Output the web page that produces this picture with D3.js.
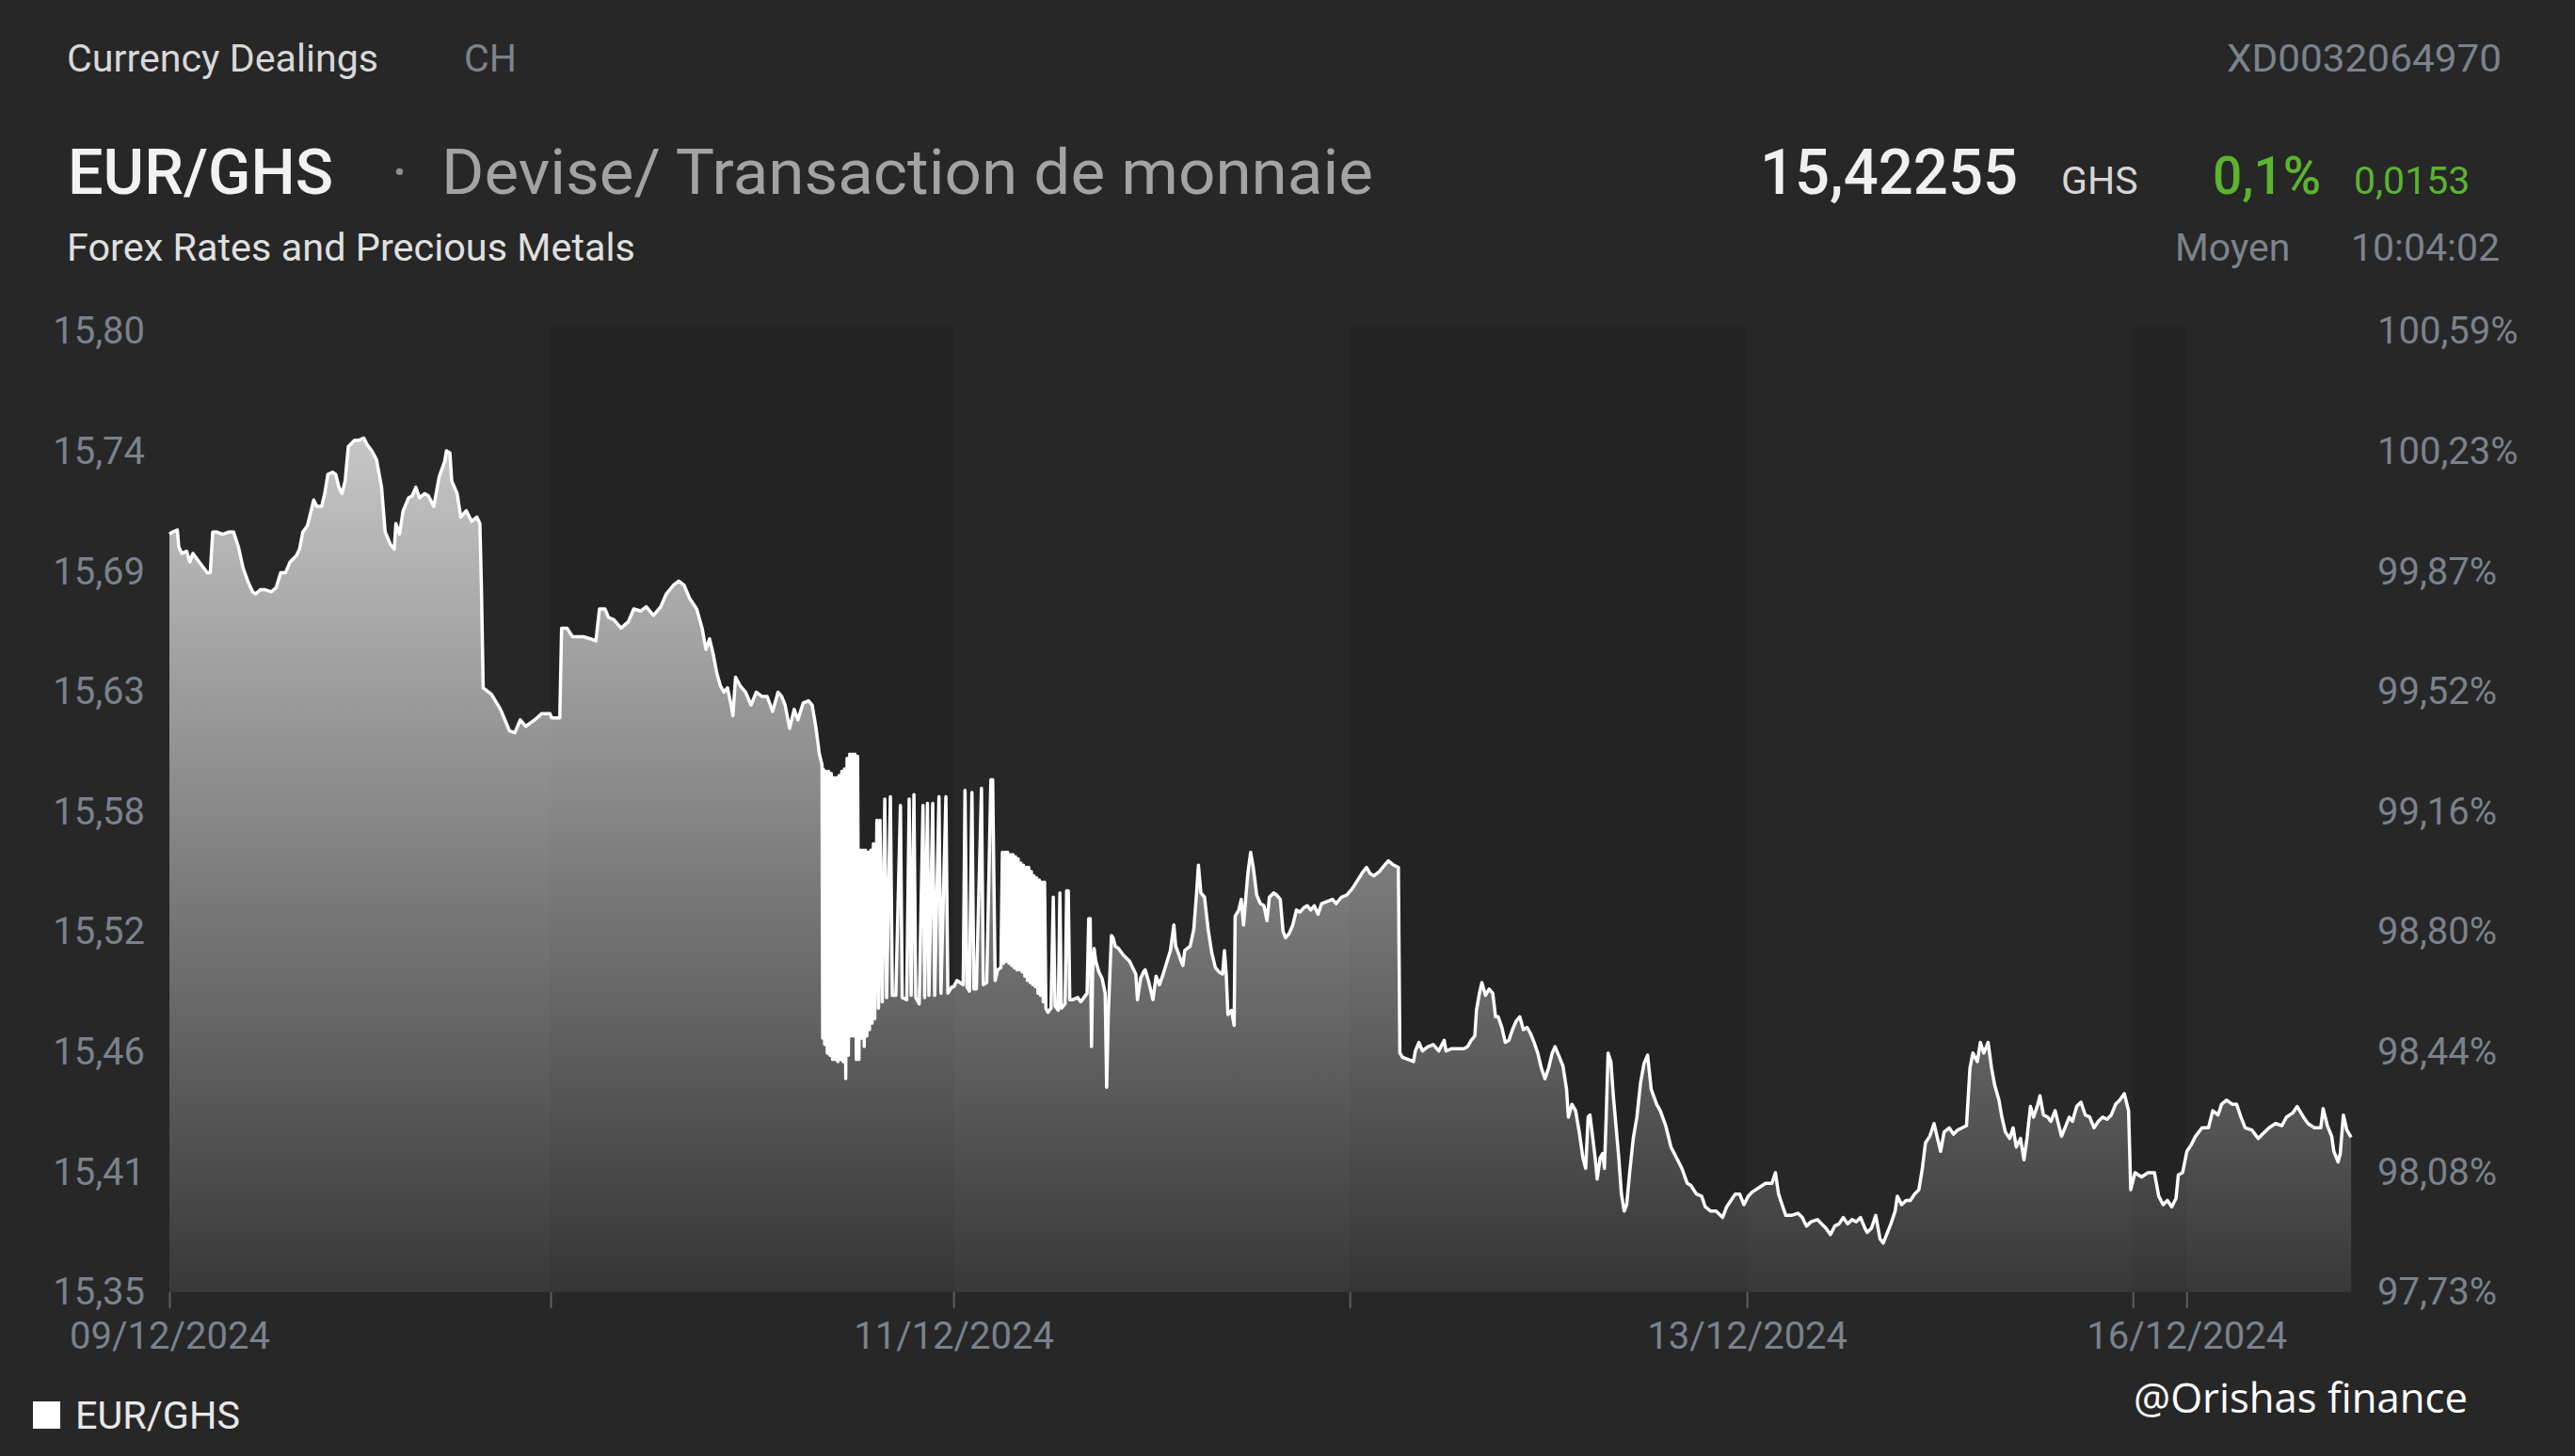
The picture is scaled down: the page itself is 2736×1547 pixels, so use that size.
<!DOCTYPE html>
<html><head><meta charset="utf-8">
<script src="https://cdn.jsdelivr.net/npm/d3@7"></script>
<style>
html,body{margin:0;padding:0;background:#272727;}
svg{display:block;}
</style></head><body>
<svg id="c" width="2736" height="1547"></svg>
<script>
// ---------- DATA (trading hour since 09/12 00:00, weekend compressed ; EUR/GHS rate) ----------
const d0912 = [[0,15.705],[0.19,15.706],[0.48,15.707],[0.57,15.699],[0.76,15.696],[1.05,15.697],[1.24,15.692],[1.43,15.696],[1.71,15.693],[2.00,15.690],[2.29,15.687],[2.48,15.687],[2.63,15.706],[2.86,15.706],[3.24,15.705],[3.62,15.706],[3.90,15.706],[4.19,15.699],[4.48,15.689],[4.76,15.683],[5.05,15.678],[5.24,15.677],[5.52,15.679],[5.81,15.679],[6.19,15.678],[6.48,15.680],[6.76,15.687],[7.05,15.687],[7.33,15.692],[7.71,15.695],[7.90,15.698],[8.10,15.706],[8.38,15.709],[8.57,15.715],[8.76,15.721],[8.95,15.718],[9.24,15.718],[9.43,15.724],[9.62,15.733],[9.90,15.734],[10.10,15.733],[10.29,15.727],[10.48,15.724],[10.67,15.730],[10.86,15.746],[11.24,15.749],[11.52,15.749],[11.81,15.750],[12.00,15.747],[12.29,15.744],[12.57,15.740],[12.88,15.727],[13.10,15.706],[13.43,15.700],[13.65,15.698],[13.75,15.710],[13.97,15.705],[14.19,15.716],[14.52,15.722],[14.74,15.723],[14.96,15.727],[15.18,15.722],[15.50,15.724],[15.72,15.723],[16.05,15.718],[16.38,15.732],[16.71,15.739],[16.82,15.744],[17.03,15.743],[17.14,15.730],[17.47,15.724],[17.69,15.713],[18.02,15.716],[18.35,15.711],[18.67,15.713],[18.85,15.710],[18.94,15.681],[19.05,15.633],[19.55,15.630],[20.10,15.623],[20.64,15.613],[20.97,15.612],[21.30,15.618],[21.63,15.615],[22.17,15.618],[22.61,15.621],[23.10,15.621]];

const d1012 = [[23.20,15.619],[23.70,15.619],[23.81,15.661],[24.14,15.661],[24.47,15.657],[25.13,15.657],[25.56,15.656],[25.89,15.655],[26.11,15.670],[26.44,15.670],[26.66,15.666],[26.98,15.665],[27.42,15.661],[27.86,15.664],[28.19,15.670],[28.62,15.669],[28.95,15.671],[29.39,15.667],[29.83,15.671],[30.16,15.677],[30.59,15.681],[30.92,15.683],[31.25,15.681],[31.58,15.675],[32.01,15.670],[32.34,15.661],[32.57,15.651],[32.79,15.656],[33.01,15.649],[33.23,15.640],[33.45,15.634],[33.66,15.631],[33.88,15.633],[34.10,15.625],[34.21,15.620],[34.37,15.638],[34.65,15.634],[34.98,15.631],[35.31,15.625],[35.63,15.631],[35.96,15.629],[36.29,15.629],[36.62,15.622],[36.95,15.631],[37.17,15.629],[37.38,15.625],[37.65,15.614],[37.93,15.623],[38.15,15.618],[38.48,15.626],[38.80,15.627],[39.02,15.625],[39.24,15.615],[39.46,15.602],[39.62,15.597],
[39.66,15.469],[39.70,15.595],[39.78,15.466],[39.86,15.594],[39.94,15.462],[40.02,15.594],[40.10,15.461],[40.18,15.593],[40.26,15.459],[40.34,15.591],[40.42,15.459],[40.50,15.591],[40.58,15.458],[40.66,15.592],[40.74,15.459],[40.82,15.594],[40.90,15.458],[40.98,15.595],[41.06,15.450],[41.14,15.600],[41.22,15.461],[41.30,15.602],[41.38,15.470],[41.46,15.602],[41.54,15.470],[41.62,15.602],[41.70,15.459],[41.78,15.601],[41.86,15.459],[41.94,15.557],[42.02,15.469],[42.10,15.557],[42.18,15.465],[42.26,15.557],[42.34,15.470],[42.42,15.556],[42.50,15.473],[42.58,15.557],[42.66,15.476],[42.74,15.560],[42.82,15.478],
[42.95,15.571],[43.05,15.483],[43.14,15.571],[43.28,15.486],[43.43,15.581],[43.54,15.488],[43.77,15.582],[43.89,15.489],[44.10,15.489],[44.38,15.578],[44.49,15.488],[44.76,15.487],[44.91,15.581],[45.03,15.489],[45.20,15.583],[45.31,15.488],[45.52,15.485],[45.75,15.578],[45.85,15.488],[46.02,15.579],[46.11,15.489],[46.34,15.579],[46.46,15.489],[46.72,15.582],[46.84,15.490],[47.14,15.582],[47.26,15.490],[47.50,15.493]];

const d1112 = [[47.62,15.493],[47.81,15.496],[48.00,15.495],[48.19,15.494],[48.30,15.585],[48.42,15.493],[48.57,15.491],[48.72,15.584],[48.84,15.492],[48.99,15.492],[49.30,15.586],[49.41,15.494],[49.62,15.495],[49.87,15.590],[49.98,15.590],[50.13,15.496],[50.29,15.501],[50.48,15.502],
[50.57,15.556],[50.65,15.504],[50.73,15.556],[50.81,15.505],[50.89,15.556],[50.97,15.504],[51.05,15.555],[51.13,15.503],[51.21,15.555],[51.29,15.502],[51.37,15.554],[51.45,15.501],[51.53,15.553],[51.61,15.501],[51.69,15.551],[51.77,15.500],[51.85,15.550],[51.93,15.498],[52.01,15.549],[52.09,15.496],[52.17,15.549],[52.25,15.495],[52.33,15.547],[52.41,15.494],[52.49,15.545],[52.57,15.493],[52.65,15.544],[52.73,15.490],[52.81,15.543],[52.89,15.489],[52.97,15.542],[53.05,15.486],[53.13,15.542],[53.21,15.483],
[53.33,15.481],[53.52,15.483],[53.66,15.535],[53.77,15.484],[53.96,15.482],[54.06,15.537],[54.15,15.483],[54.38,15.485],[54.47,15.538],[54.57,15.538],[54.66,15.487],[54.85,15.487],[55.14,15.488],[55.33,15.486],[55.52,15.488],[55.71,15.490],[55.81,15.525],[55.90,15.525],[55.98,15.465],[56.05,15.500],[56.14,15.511],[56.24,15.505],[56.43,15.500],[56.62,15.497],[56.81,15.490],[56.90,15.446],[57.00,15.480],[57.10,15.500],[57.19,15.517],[57.29,15.516],[57.43,15.512],[57.62,15.511],[57.90,15.508],[58.29,15.505],[58.67,15.499],[58.77,15.487],[58.96,15.497],[59.14,15.500],[59.24,15.501],[59.43,15.496],[59.62,15.490],[59.71,15.487],[59.90,15.498],[60.10,15.494],[60.29,15.498],[60.57,15.505],
[60.77,15.510],[60.98,15.522],[61.09,15.512],[61.20,15.510],[61.42,15.505],[61.53,15.503],[61.64,15.510],[61.97,15.512],[62.19,15.520],[62.36,15.537],[62.47,15.550],[62.62,15.537],[62.84,15.535],[63.06,15.520],[63.28,15.509],[63.50,15.502],[63.72,15.500],[63.94,15.499],[64.05,15.510],[64.16,15.499],[64.26,15.480],[64.48,15.482],[64.64,15.475],[64.70,15.526],[64.92,15.529],[65.07,15.534],[65.21,15.522],[65.36,15.536],[65.47,15.546],[65.64,15.556],[65.80,15.549],[66.01,15.536],[66.23,15.532],[66.45,15.531],[66.63,15.524],[66.78,15.535],[67.04,15.537],[67.22,15.536],[67.44,15.534],[67.61,15.519],[67.76,15.516],[67.98,15.518],[68.20,15.522],[68.42,15.529],[68.64,15.528],[68.86,15.530],[69.08,15.531],[69.29,15.529],[69.51,15.531],[69.73,15.527],[69.95,15.532],[70.28,15.533],[70.61,15.534],[70.83,15.532],[71.15,15.535],[71.48,15.536]];

const d1212 = [[71.81,15.539],[72.14,15.543],[72.47,15.547],[72.68,15.549],[72.90,15.546],[73.12,15.545],[73.45,15.547],[73.67,15.549],[74.00,15.552],[74.32,15.550],[74.61,15.549],[74.70,15.462],[74.87,15.460],[75.20,15.459],[75.53,15.458],[75.64,15.463],[75.86,15.467],[76.07,15.463],[76.40,15.465],[76.73,15.466],[77.06,15.463],[77.39,15.468],[77.50,15.463],[77.82,15.464],[78.26,15.464],[78.59,15.464],[78.81,15.465],[79.03,15.468],[79.25,15.470],[79.35,15.482],[79.53,15.490],[79.68,15.495],[79.90,15.489],[80.12,15.492],[80.34,15.490],[80.51,15.479],[80.67,15.479],[80.89,15.474],[81.10,15.467],[81.32,15.468],[81.54,15.473],[81.76,15.477],[81.98,15.479],[82.20,15.473],[82.42,15.474],[82.64,15.471],[82.85,15.467],[83.07,15.462],[83.29,15.455],[83.51,15.450],[83.73,15.455],[83.95,15.462],[84.12,15.465],[84.39,15.460],[84.60,15.456],[84.82,15.445],[84.93,15.432],[85.15,15.438],[85.37,15.435],[85.59,15.425],[85.81,15.413],[85.98,15.408],[86.13,15.432],[86.24,15.433],[86.40,15.423],[86.57,15.412],[86.68,15.403],[86.86,15.413],[87.01,15.415],[87.12,15.408],[87.23,15.433],[87.34,15.462],[87.51,15.458],[87.66,15.442],[87.82,15.428],[87.99,15.413],[88.15,15.396],[88.32,15.388],[88.47,15.391],[88.65,15.406],[88.87,15.422],[89.09,15.432],[89.31,15.448],[89.52,15.457],[89.74,15.461],[89.96,15.445],[90.29,15.438],[90.51,15.435],[90.84,15.428],[91.16,15.418],[91.49,15.413],[91.82,15.408],[92.15,15.401],[92.37,15.400],[92.70,15.396],[93.02,15.395],[93.24,15.390],[93.57,15.388],[93.90,15.388],[94.29,15.385],[94.54,15.390],[94.80,15.393],[95.06,15.396],[95.33,15.396],[95.59,15.391]];

const d1312 = [[95.85,15.395],[96.11,15.397],[96.51,15.399],[96.90,15.401],[97.29,15.401],[97.50,15.406],[97.69,15.396],[97.95,15.390],[98.13,15.386],[98.47,15.386],[98.87,15.387],[99.13,15.385],[99.39,15.381],[99.66,15.383],[100.05,15.384],[100.31,15.382],[100.57,15.380],[100.84,15.377],[101.10,15.381],[101.36,15.382],[101.62,15.385],[101.88,15.382],[102.15,15.384],[102.41,15.383],[102.67,15.385],[102.93,15.380],[103.07,15.378],[103.33,15.380],[103.59,15.386],[103.85,15.375],[104.04,15.373],[104.25,15.377],[104.51,15.382],[104.77,15.388],[104.90,15.395],[105.16,15.391],[105.43,15.393],[105.69,15.393],[105.95,15.396],[106.21,15.398],[106.42,15.408],[106.61,15.420],[106.87,15.423],[107.13,15.429],[107.34,15.422],[107.53,15.416],[107.74,15.425],[108.05,15.427],[108.31,15.424],[108.57,15.426],[108.84,15.427],[109.10,15.428],[109.31,15.455],[109.49,15.462],[109.76,15.458],[109.94,15.467],[110.15,15.462],[110.41,15.467],[110.62,15.455],[110.81,15.447],[111.07,15.440],[111.25,15.432],[111.46,15.425],[111.72,15.422],[111.93,15.427],[112.12,15.418],[112.38,15.422],[112.59,15.412],[112.77,15.422],[112.98,15.437],[113.17,15.432],[113.43,15.438],[113.56,15.442],[113.77,15.433],[114.03,15.432],[114.22,15.430],[114.48,15.435],[114.87,15.423],[115.13,15.428],[115.34,15.432],[115.53,15.430],[115.79,15.437],[116.05,15.439],[116.31,15.433],[116.58,15.432],[116.84,15.427],[117.10,15.430],[117.36,15.432],[117.63,15.431],[117.89,15.433],[118.15,15.438],[118.41,15.440],[118.68,15.443],[118.94,15.435],[119.07,15.398]];

const d1415 = [[119.33,15.406],[119.73,15.404],[120.12,15.406],[120.51,15.406],[120.77,15.395],[121.04,15.391],[121.30,15.393],[121.56,15.390],[121.82,15.394],[121.96,15.405],[122.22,15.406]];

const d1612 = [[122.48,15.416],[122.74,15.419],[123.00,15.423],[123.40,15.427],[123.79,15.427],[124.05,15.435],[124.37,15.433],[124.58,15.438],[124.89,15.440],[125.24,15.438],[125.50,15.438],[125.76,15.432],[126.02,15.427],[126.42,15.426],[126.81,15.422],[127.07,15.424],[127.47,15.427],[127.86,15.429],[128.25,15.428],[128.52,15.432],[128.91,15.434],[129.17,15.437],[129.56,15.432],[129.83,15.429],[130.22,15.427],[130.61,15.427],[130.75,15.436],[131.01,15.428],[131.27,15.423],[131.40,15.416],[131.66,15.411],[131.79,15.415],[131.98,15.433],[132.19,15.426],[132.45,15.4226]];

const sessionStarts = [0, 23.14, 47.6, 71.66, 95.77, 119.2, 122.46];
const sessionEnd = 132.5;
const dayLabels = ["09/12/2024", "", "11/12/2024", "", "13/12/2024", "", "16/12/2024"];
const yTickValues = [15.35, 15.40625, 15.4625, 15.51875, 15.575, 15.63125, 15.6875, 15.74375, 15.80];
const yTickLabels = ["15,35", "15,41", "15,46", "15,52", "15,58", "15,63", "15,69", "15,74", "15,80"];
const pctTickLabels = ["97,73%", "98,08%", "98,44%", "98,80%", "99,16%", "99,52%", "99,87%", "100,23%", "100,59%"];

const seriesName = "EUR/GHS";
const headerTop = ["Currency Dealings", "CH", "XD0032064970"];
const titleMain = "EUR/GHS", titleSub = "Devise/ Transaction de monnaie", subtitle = "Forex Rates and Precious Metals";
const lastPrice = "15,42255", currency = "GHS", changePct = "0,1%", changeAbs = "0,0153";
const priceType = "Moyen", priceTime = "10:04:02";
const credit = "@Orishas finance";

// ---------- DRAW ----------
const W = 2736, H = 1547;
const m = {left: 180, right: 2499, top: 352, bottom: 1373};
const BG = "#272727", DARK = "#232323", AXIS = "#7b828b";
const svg = d3.select("#c");
svg.append("rect").attr("width", W).attr("height", H).attr("fill", BG);

const data = [].concat(d0912, d1012, d1112, d1212, d1312, d1415, d1612).map(([h, v]) => ({h, v}));
const x = d3.scaleLinear().domain([sessionStarts[0], sessionEnd]).range([m.left, m.right]);
const y = d3.scaleLinear().domain([15.35, 15.80]).range([m.bottom, m.top]);

// day bands
const bounds = sessionStarts.concat([sessionEnd]);
svg.append("g").selectAll("rect").data(sessionStarts).join("rect")
  .attr("x", d => x(d))
  .attr("width", (d, i) => x(bounds[i + 1]) - x(d))
  .attr("y", m.top - 5)
  .attr("height", m.bottom - m.top + 5)
  .attr("fill", (d, i) => i % 2 ? DARK : BG);

// gradient
const defs = svg.append("defs");
const grad = defs.append("linearGradient").attr("id", "fillGrad")
  .attr("gradientUnits", "userSpaceOnUse")
  .attr("x1", 0).attr("x2", 0).attr("y1", m.top).attr("y2", m.bottom);
grad.append("stop").attr("offset", "0").attr("stop-color", "#ffffff").attr("stop-opacity", 0.82);
grad.append("stop").attr("offset", "1").attr("stop-color", "#ffffff").attr("stop-opacity", 0.08);

svg.append("path").datum(data)
  .attr("fill", "url(#fillGrad)")
  .attr("d", d3.area().x(d => x(d.h)).y0(m.bottom).y1(d => y(d.v)));
svg.append("path").datum(data)
  .attr("fill", "none").attr("stroke", "#ffffff").attr("stroke-width", 3.5)
  .attr("stroke-linejoin", "round")
  .attr("d", d3.line().x(d => x(d.h)).y(d => y(d.v)));

// axes
function styleAxis(g) {
  g.select(".domain").remove();
  g.attr("font-family", "Roboto").attr("font-size", 40);
  g.selectAll("text").attr("fill", AXIS);
}
const gl = svg.append("g").attr("transform", `translate(${m.left},0)`)
  .call(d3.axisLeft(y).tickValues(yTickValues).tickFormat((d, i) => yTickLabels[i]).tickSize(0).tickPadding(26));
styleAxis(gl);
const gr = svg.append("g").attr("transform", `translate(${m.right},0)`)
  .call(d3.axisRight(y).tickValues(yTickValues).tickFormat((d, i) => pctTickLabels[i]).tickSize(0).tickPadding(27));
styleAxis(gr);
const gx = svg.append("g").attr("transform", `translate(0,${m.bottom})`)
  .call(d3.axisBottom(x).tickValues(sessionStarts).tickFormat((d, i) => dayLabels[i]).tickSize(17).tickPadding(15));
styleAxis(gx);
gx.selectAll("line").attr("stroke", "#5e5e5e").attr("stroke-width", 2);

// header texts
function txt(s, xx, yy, size, fill, opts = {}) {
  const t = svg.append("text").attr("x", xx).attr("y", yy)
    .attr("font-family", opts.family || "Roboto").attr("font-size", size)
    .attr("font-weight", opts.weight || 400).attr("fill", fill)
    .attr("text-anchor", opts.anchor || "start").text(s);
  if (opts.len) t.attr("textLength", opts.len).attr("lengthAdjust", "spacingAndGlyphs");
  return t;
}
txt(headerTop[0], 71, 76, 41, "#d8d8d8", {len: 331});
txt(headerTop[1], 493, 76, 41, "#7c838c");
txt(headerTop[2], 2658, 76, 41, "#7c838c", {anchor: "end", len: 292});
txt(titleMain, 72, 206, 66, "#f2f2f2", {weight: 500, len: 282});
txt("·", 416, 206, 66, "#8f8f8f");
txt(titleSub, 469, 206, 66, "#a3a3a3", {len: 990});
txt(subtitle, 71, 277, 41, "#e0e0e0", {len: 604});
txt(lastPrice, 1870, 206, 66, "#f0f0f0", {weight: 500, len: 274});
txt(currency, 2190, 206, 41, "#d6d6d6");
txt(changePct, 2351, 206, 55, "#5ab42e", {weight: 500});
txt(changeAbs, 2501, 206, 41, "#5ab42e");
txt(priceType, 2311, 277, 41, "#7c838c");
txt(priceTime, 2656, 277, 41, "#7c838c", {anchor: "end"});

// legend
svg.append("rect").attr("x", 35).attr("y", 1489).attr("width", 29).attr("height", 29).attr("fill", "#ffffff");
txt(seriesName, 80, 1518, 40, "#e8e8e8", {len: 175});

// credit
txt(credit, 2267, 1501, 44, "#ffffff", {family: "Open Sans", len: 355});
</script>
</body></html>
